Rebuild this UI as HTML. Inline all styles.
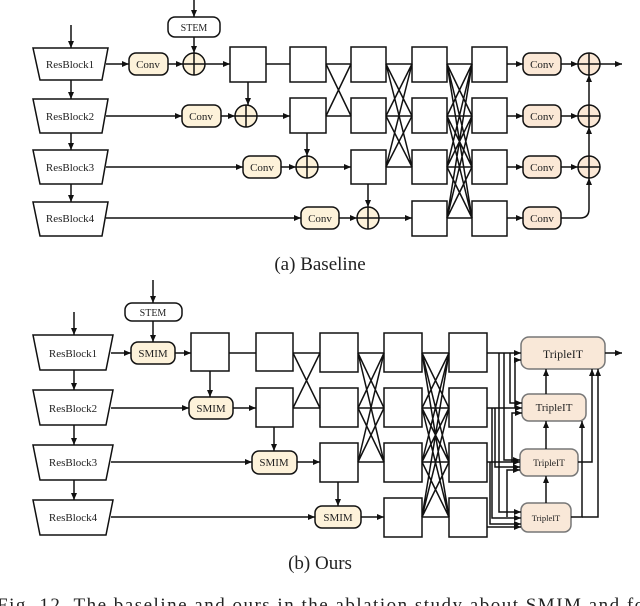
<!DOCTYPE html>
<html><head><meta charset="utf-8"><style>
html,body{margin:0;padding:0;background:#fff;}
svg{display:block;}
text{font-family:"Liberation Serif",serif;fill:#222;}
</style></head><body>
<svg width="640" height="606" viewBox="0 0 640 606" xmlns="http://www.w3.org/2000/svg">
<defs>
<marker id="a" markerWidth="8" markerHeight="8" refX="7" refY="4" orient="auto" markerUnits="userSpaceOnUse">
<path d="M0,1 L7,4 L0,7 Z" fill="#111"/></marker>
</defs>
<g stroke="#111" stroke-width="1.5" fill="none">
<g fill="#fff">
<path d="M33,48 H108 L102,80 H40 Z"/>
<path d="M33,99 H108 L102,133 H40 Z"/>
<path d="M33,150 H108 L102,184 H40 Z"/>
<path d="M33,202 H108 L102,236 H40 Z"/>
<rect x="168" y="17" width="52" height="20" rx="7"/>
<rect x="230" y="47" width="36" height="35"/>
<rect x="290" y="47" width="36" height="35"/><rect x="290" y="98" width="36" height="35"/>
<rect x="351" y="47" width="35" height="35"/><rect x="351" y="98" width="35" height="35"/><rect x="351" y="150" width="35" height="34"/>
<rect x="412" y="47" width="35" height="35"/><rect x="412" y="98" width="35" height="35"/><rect x="412" y="150" width="35" height="34"/><rect x="412" y="201" width="35" height="35"/>
<rect x="472" y="47" width="35" height="35"/><rect x="472" y="98" width="35" height="35"/><rect x="472" y="150" width="35" height="34"/><rect x="472" y="201" width="35" height="35"/>
</g>
<g fill="#fdf2da">
<rect x="129" y="53" width="39" height="22" rx="7"/>
<rect x="182" y="105" width="39" height="22" rx="7"/>
<rect x="243" y="156" width="38" height="22" rx="7"/>
<rect x="301" y="207" width="38" height="22" rx="7"/>
<circle cx="194" cy="64" r="11"/><circle cx="246" cy="116" r="11"/><circle cx="307" cy="167" r="11"/><circle cx="368" cy="218" r="11"/>
</g>
<g fill="#fbe8d6">
<rect x="523" y="53" width="38" height="22" rx="7"/><rect x="523" y="105" width="38" height="22" rx="7"/>
<rect x="523" y="156" width="38" height="22" rx="7"/><rect x="523" y="207" width="38" height="22" rx="7"/>
<circle cx="589" cy="64" r="11"/><circle cx="589" cy="116" r="11"/><circle cx="589" cy="167" r="11"/>
</g>
<path d="M194,53V75M183,64H205M246,105V127M235,116H257M307,156V178M296,167H318M368,207V229M357,218H379M589,53V75M578,64H600M589,105V127M578,116H600M589,156V178M578,167H600"/>
<g marker-end="url(#a)">
<path d="M71,25V48"/><path d="M194,0V17"/><path d="M194,37V53"/>
<path d="M71,80V99"/><path d="M71,133V150"/><path d="M71,184V202"/>
<path d="M106,64H129"/><path d="M168,64H183"/><path d="M205,64H230"/>
<path d="M106,116H182"/><path d="M221,116H235"/><path d="M257,116H290"/>
<path d="M106,167H243"/><path d="M281,167H296"/><path d="M318,167H351"/>
<path d="M106,218H301"/><path d="M339,218H357"/><path d="M379,218H412"/>
<path d="M248,82V105"/><path d="M307,133V156"/><path d="M368,184V207"/>
<path d="M507,64H523"/><path d="M507,116H523"/><path d="M507,167H523"/><path d="M507,218H523"/>
<path d="M561,64H578"/><path d="M561,116H578"/><path d="M561,167H578"/>
<path d="M561,218H580Q589,218 589,209V178"/><path d="M589,156V127"/><path d="M589,105V75"/>
<path d="M600,64H622"/>
</g>
<path d="M266,64H290"/>
<path d="M326,64L351,64M326,116L351,116M326,64L351,116M326,116L351,64"/>
<path d="M386,64L412,64M386,64L412,116M386,64L412,167M386,116L412,64M386,116L412,116M386,116L412,167M386,167L412,64M386,167L412,116M386,167L412,167"/>
<path d="M447,64L472,64M447,64L472,116M447,64L472,167M447,64L472,218M447,116L472,64M447,116L472,116M447,116L472,167M447,116L472,218M447,167L472,64M447,167L472,116M447,167L472,167M447,167L472,218M447,218L472,64M447,218L472,116M447,218L472,167M447,218L472,218"/>

<g fill="#fff">
<path d="M33,335 H113 L106,370 H40 Z"/>
<path d="M33,390 H113 L106,425 H40 Z"/>
<path d="M33,445 H113 L106,480 H40 Z"/>
<path d="M33,500 H113 L106,535 H40 Z"/>
<rect x="125" y="303" width="57" height="18" rx="7"/>
<rect x="191" y="333" width="38" height="38"/>
<rect x="256" y="333" width="37" height="38"/><rect x="256" y="388" width="37" height="39"/>
<rect x="320" y="333" width="38" height="39"/><rect x="320" y="388" width="38" height="39"/><rect x="320" y="443" width="38" height="39"/>
<rect x="384" y="333" width="38" height="39"/><rect x="384" y="388" width="38" height="39"/><rect x="384" y="443" width="38" height="39"/><rect x="384" y="498" width="38" height="39"/>
<rect x="449" y="333" width="38" height="39"/><rect x="449" y="388" width="38" height="39"/><rect x="449" y="443" width="38" height="39"/><rect x="449" y="498" width="38" height="39"/>
</g>
<g fill="#fdf2da">
<rect x="131" y="342" width="44" height="22" rx="7"/>
<rect x="189" y="397" width="44" height="22" rx="7"/>
<rect x="252" y="451" width="45" height="23" rx="7"/>
<rect x="315" y="506" width="46" height="22" rx="7"/>
</g>
<g fill="#f9e8d8" stroke="#777">
<rect x="521" y="337" width="84" height="32" rx="8"/>
<rect x="522" y="394" width="64" height="27" rx="7"/>
<rect x="520" y="449" width="58" height="27" rx="7"/>
<rect x="521" y="503" width="50" height="29" rx="7"/>
</g>
<g marker-end="url(#a)">
<path d="M74,312V335"/><path d="M153,280V303"/><path d="M153,321V342"/>
<path d="M74,370V390"/><path d="M74,425V445"/><path d="M74,480V500"/>
<path d="M111,353H131"/><path d="M175,353H191"/>
<path d="M111,408H189"/><path d="M233,408H256"/>
<path d="M111,462H252"/><path d="M297,462H320"/>
<path d="M111,517H315"/><path d="M361,517H384"/>
<path d="M210,371V397"/><path d="M274,427V451"/><path d="M338,482V506"/>
<path d="M487,353H521"/><path d="M510,353V403H522"/><path d="M504,353V460H520"/><path d="M499,353V512H521"/>
<path d="M487,408H522"/><path d="M495,408V467H520"/><path d="M492,408V518H521"/><path d="M515,408V360H521"/>
<path d="M487,462H520"/><path d="M490,462V524H521"/><path d="M512,462V413H522"/>
<path d="M487,527H521"/><path d="M507,517V470H520"/>
<path d="M546,394V369"/><path d="M546,449V421"/><path d="M546,503V476"/>
<path d="M578,462H592V369"/><path d="M571,517H582V421"/><path d="M582,517H598V369"/>
<path d="M605,353H622"/>
</g>
<path d="M229,353H256M293,353H320"/>
<path d="M293,353L320,408M293,408L320,353M293,408H320"/>
<path d="M358,353L384,353M358,353L384,408M358,353L384,462M358,408L384,353M358,408L384,408M358,408L384,462M358,462L384,353M358,462L384,408M358,462L384,462"/>
<path d="M422,353L449,353M422,353L449,408M422,353L449,462M422,353L449,517M422,408L449,353M422,408L449,408M422,408L449,462M422,408L449,517M422,462L449,353M422,462L449,408M422,462L449,462M422,462L449,517M422,517L449,353M422,517L449,408M422,517L449,462M422,517L449,517"/>
</g>
<g font-size="11">
<text x="70" y="68" text-anchor="middle">ResBlock1</text>
<text x="70" y="120" text-anchor="middle">ResBlock2</text>
<text x="70" y="171" text-anchor="middle">ResBlock3</text>
<text x="70" y="222" text-anchor="middle">ResBlock4</text>
<text x="194" y="31" text-anchor="middle" font-size="10">STEM</text>
<text x="148" y="68" text-anchor="middle">Conv</text>
<text x="201" y="120" text-anchor="middle">Conv</text>
<text x="262" y="171" text-anchor="middle">Conv</text>
<text x="320" y="222" text-anchor="middle">Conv</text>
<text x="542" y="68" text-anchor="middle">Conv</text>
<text x="542" y="120" text-anchor="middle">Conv</text>
<text x="542" y="171" text-anchor="middle">Conv</text>
<text x="542" y="222" text-anchor="middle">Conv</text>
<text x="73" y="357" text-anchor="middle">ResBlock1</text>
<text x="73" y="412" text-anchor="middle">ResBlock2</text>
<text x="73" y="466" text-anchor="middle">ResBlock3</text>
<text x="73" y="521" text-anchor="middle">ResBlock4</text>
<text x="153" y="316" text-anchor="middle" font-size="10">STEM</text>
<text x="153" y="357" text-anchor="middle">SMIM</text>
<text x="211" y="412" text-anchor="middle">SMIM</text>
<text x="274" y="466" text-anchor="middle">SMIM</text>
<text x="338" y="521" text-anchor="middle">SMIM</text>
<text x="563" y="358" text-anchor="middle" font-size="12">TripleIT</text>
<text x="554" y="411" text-anchor="middle">TripleIT</text>
<text x="549" y="466" text-anchor="middle" font-size="9.5">TripleIT</text>
<text x="546" y="521" text-anchor="middle" font-size="8.5">TripleIT</text>
</g>
<text x="320" y="270" text-anchor="middle" font-size="19">(a)  Baseline</text>
<text x="320" y="569" text-anchor="middle" font-size="19">(b)  Ours</text>
<text x="-3" y="611" font-size="19" textLength="655" lengthAdjust="spacing">Fig. 12.   The baseline and ours in the ablation study about SMIM and for</text>
</svg>
</body></html>
